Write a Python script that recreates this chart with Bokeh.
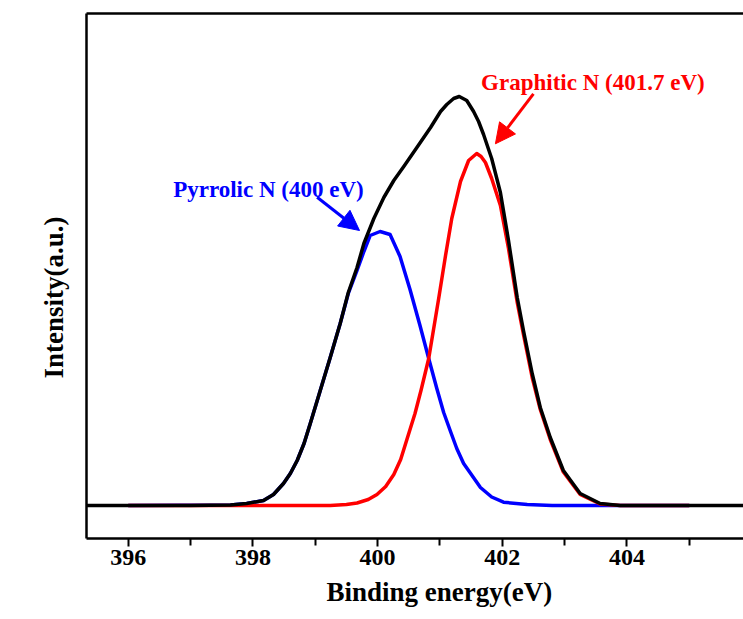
from bokeh.embed import file_html
from bokeh.models import Arrow, FixedTicker, Label, LinearAxis, NormalHead, Range1d, Title
from bokeh.plotting import figure
from bokeh.resources import INLINE

# N 1s spectrum (measured envelope) and its two fitted components
energy_total = [395.3, 397.0, 397.64, 397.90, 398.17, 398.33, 398.49, 398.60, 398.71,
                398.82, 398.92, 399.08, 399.24, 399.40, 399.53, 399.67, 399.78, 399.94,
                400.10, 400.26, 400.42, 400.63, 400.85, 401.01, 401.11, 401.22, 401.31,
                401.43, 401.54, 401.62, 401.70, 401.83, 401.97, 402.10, 402.24, 402.34,
                402.48, 402.61, 402.77, 402.98, 403.25, 403.57, 403.89, 406.0]
intensity_total = [0, 0, 0.5, 2, 5, 11, 22, 32, 45,
                   62, 82, 115, 148, 182, 213, 238, 262, 287,
                   308, 325, 339, 358, 378, 394, 401, 407, 409,
                   405, 394, 384, 371, 347, 313, 265, 208, 175,
                   132, 98, 68, 35, 12, 2, 0, 0]

energy_pyrrolic = [396.0, 397.64, 397.90, 398.17, 398.33, 398.49, 398.60, 398.71, 398.82,
                   398.92, 399.08, 399.24, 399.40, 399.53, 399.67, 399.78, 399.88, 400.04,
                   400.20, 400.36, 400.52, 400.68, 400.82, 400.95, 401.06, 401.17, 401.27,
                   401.38, 401.65, 401.83, 402.02, 402.40, 402.80, 405.0]
intensity_pyrrolic = [0, 0.5, 2, 5, 11, 22, 32, 45, 62,
                      82, 115, 148, 182, 212, 235, 254, 270, 274,
                      271, 249, 216, 180, 147, 117, 93, 74, 57,
                      42, 18, 8.5, 3.3, 1, 0, 0]

energy_graphitic = [396.0, 399.24, 399.50, 399.67, 399.85, 399.99, 400.13, 400.26, 400.37,
                    400.47, 400.60, 400.70, 400.82, 400.90, 400.98, 401.09, 401.19, 401.33,
                    401.46, 401.59, 401.66, 401.73, 401.83, 401.97, 402.10, 402.24, 402.34,
                    402.48, 402.61, 402.77, 402.98, 403.25, 403.57, 403.89, 405.0]
intensity_graphitic = [0, 0, 1, 2.5, 6, 11, 19, 31, 46,
                       66, 92, 116, 147, 177, 207, 250, 287, 324,
                       345, 352, 349, 343, 327, 300, 257, 203, 171,
                       128, 96, 66, 33.5, 11, 1.5, 0, 0]

peak_names = ["Pyrrolic N", "Graphitic N"]
peak_labels = ["400", "401.7"]
major_ticks = [396, 398, 400, 402, 404]
minor_ticks = [397, 399, 401, 403, 405]

SERIF = "Liberation Serif"

p = figure(width=743, height=619, output_backend="svg", toolbar_location=None,
           x_range=Range1d(395.33, 405.87), y_range=Range1d(-33, 492),
           min_border_left=86, min_border_right=0, min_border_top=13, min_border_bottom=81)
p.background_fill_color = "white"
p.border_fill_color = "white"
p.outline_line_color = None
p.grid.visible = False

# bottom axis
xa = p.xaxis[0]
xa.ticker = FixedTicker(ticks=major_ticks, minor_ticks=minor_ticks)
xa.axis_line_width = 2.5
xa.axis_line_color = "black"
xa.major_tick_line_width = 2
xa.major_tick_in = 0
xa.major_tick_out = 8
xa.minor_tick_line_width = 2
xa.minor_tick_in = 0
xa.minor_tick_out = 7
xa.major_label_text_font = SERIF
xa.major_label_text_font_style = "bold"
xa.major_label_text_font_size = "24px"
xa.major_label_text_color = "black"
xa.major_label_standoff = 3

# left axis: only the frame line
ya = p.yaxis[0]
ya.ticker = FixedTicker(ticks=[])
ya.axis_line_width = 2.5
ya.axis_line_color = "black"
ya.major_tick_out = 0
ya.minor_tick_out = 0
ya.major_label_standoff = 0

# top frame line
top = LinearAxis(ticker=FixedTicker(ticks=[]), axis_line_width=2.5, axis_line_color="black",
                 major_tick_out=0, minor_tick_out=0, major_tick_in=0, minor_tick_in=0,
                 major_label_standoff=0)
p.add_layout(top, "above")

# curves: components first, envelope on top
p.line(energy_pyrrolic, intensity_pyrrolic, line_color="#0000FF", line_width=3.5,
       line_join="round")
p.line(energy_graphitic, intensity_graphitic, line_color="#FF0000", line_width=3.5,
       line_join="round")
p.line(energy_total, intensity_total, line_color="black", line_width=3.5, line_join="round")

# peak annotations
p.add_layout(Label(x=396.72, y=315.7, text=f"{peak_names[0]} ({peak_labels[0]} eV)",
                   text_font=SERIF, text_font_style="bold", text_font_size="23px",
                   text_color="#0000FF", text_baseline="alphabetic", text_align="left"))
p.add_layout(Label(x=401.66, y=422.7, text=f"{peak_names[1]} ({peak_labels[1]} eV)",
                   text_font=SERIF, text_font_style="bold", text_font_size="23px",
                   text_color="#FF0000", text_baseline="alphabetic", text_align="left"))

p.add_layout(Arrow(end=NormalHead(size=20, fill_color="#0000FF", line_color="#0000FF"),
                   x_start=399.03, y_start=308.3, x_end=399.71, y_end=275,
                   line_color="#0000FF", line_width=3))
p.add_layout(Arrow(end=NormalHead(size=20, fill_color="#FF0000", line_color="#FF0000"),
                   x_start=402.50, y_start=411.7, x_end=401.89, y_end=361.7,
                   line_color="#FF0000", line_width=3))

# axis titles
p.add_layout(Title(text="Binding energy(eV)", align="left", offset=240, standoff=15,
                   text_font=SERIF, text_font_style="bold", text_font_size="27px",
                   text_color="black"), "below")
p.add_layout(Title(text="Intensity(a.u.)", align="left", offset=160, standoff=35,
                   text_font=SERIF, text_font_style="bold", text_font_size="27px",
                   text_color="black"), "left")

open("out.html", "w").write(file_html(p, INLINE))
